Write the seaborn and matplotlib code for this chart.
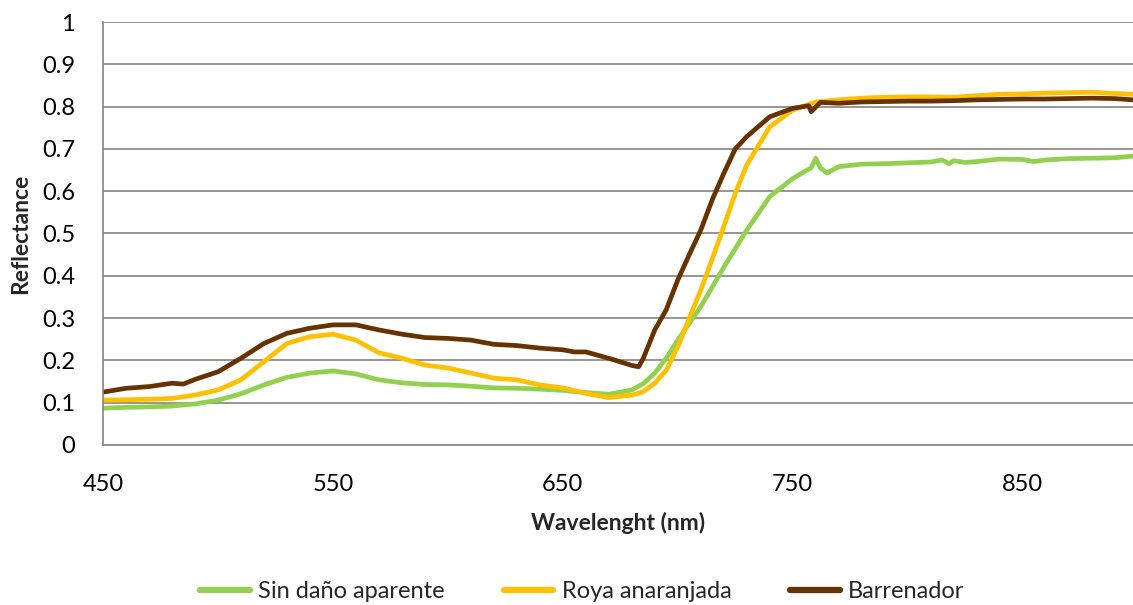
import numpy as np
import pandas as pd
import seaborn as sns
import matplotlib
matplotlib.use("Agg")
import matplotlib.pyplot as plt
from matplotlib.lines import Line2D

# ---- data ----
wl_sin = [450, 460, 470, 480, 490, 500, 510, 520, 530, 540, 550, 560, 570, 580, 590, 600, 610, 620, 630, 640,
          650, 660, 670, 680, 685, 690, 695, 700, 710, 720, 730, 740, 750, 755, 758, 760, 762, 765, 770, 780, 790,
          800, 810, 815, 818, 820, 825, 830, 840, 850, 855, 860, 870, 880, 890, 898]
sin_dano = [0.087, 0.089, 0.090, 0.092, 0.097, 0.106, 0.121, 0.142, 0.160, 0.170, 0.175, 0.168, 0.154, 0.147,
            0.143, 0.142, 0.139, 0.135, 0.134, 0.132, 0.129, 0.124, 0.120, 0.130, 0.145, 0.170, 0.205, 0.248,
            0.327, 0.420, 0.508, 0.587, 0.630, 0.646, 0.655, 0.678, 0.655, 0.643, 0.658, 0.664, 0.665,
            0.667, 0.669, 0.674, 0.665, 0.672, 0.668, 0.670, 0.676, 0.675, 0.670, 0.674, 0.677, 0.678, 0.679, 0.683]

wl_roya = [450, 460, 470, 480, 490, 500, 510, 520, 530, 540, 550, 560, 570, 580, 590, 600, 610, 620, 630, 640,
           650, 660, 670, 680, 685, 690, 695, 700, 705, 710, 715, 720, 725, 730, 740, 750, 760, 770, 780, 790,
           800, 810, 820, 830, 840, 850, 860, 870, 880, 890, 898]
roya = [0.106, 0.107, 0.108, 0.110, 0.118, 0.130, 0.154, 0.197, 0.240, 0.256, 0.262, 0.248, 0.218, 0.205,
        0.189, 0.182, 0.170, 0.158, 0.154, 0.142, 0.135, 0.122, 0.112, 0.118, 0.126, 0.146, 0.177, 0.232,
        0.300, 0.366, 0.440, 0.516, 0.595, 0.662, 0.752, 0.792, 0.811, 0.816, 0.820, 0.822,
        0.823, 0.823, 0.822, 0.826, 0.829, 0.830, 0.832, 0.833, 0.834, 0.831, 0.829]

wl_barr = [450, 460, 470, 480, 485, 490, 500, 510, 520, 530, 540, 550, 560, 570, 580, 590, 600, 610, 620, 630,
           640, 650, 655, 660, 670, 680, 683, 685, 690, 695, 700, 705, 710, 715, 720, 725, 730, 740, 750, 757,
           758, 762, 770, 780, 790, 800, 810, 820, 830, 840, 850, 860, 870, 880, 890, 898]
barrenador = [0.125, 0.134, 0.138, 0.146, 0.144, 0.155, 0.173, 0.205, 0.240, 0.264, 0.276, 0.284, 0.284, 0.272,
              0.262, 0.254, 0.252, 0.248, 0.238, 0.235, 0.229, 0.225, 0.220, 0.220, 0.205, 0.188, 0.185, 0.205,
              0.272, 0.320, 0.390, 0.450, 0.508, 0.580, 0.642, 0.700, 0.729, 0.776, 0.796, 0.802,
              0.788, 0.810, 0.808, 0.811, 0.812, 0.813, 0.813, 0.814, 0.816, 0.817, 0.818, 0.818, 0.819, 0.820, 0.819, 0.816]

series_names = ["Sin daño aparente", "Roya anaranjada", "Barrenador"]
colors = ["#92D050", "#FFC000", "#663300"]
x_ticks = [450, 550, 650, 750, 850]
y_ticks = [0, 0.1, 0.2, 0.3, 0.4, 0.5, 0.6, 0.7, 0.8, 0.9, 1]
y_ticklabels = ["0", "0.1", "0.2", "0.3", "0.4", "0.5", "0.6", "0.7", "0.8", "0.9", "1"]

df = pd.concat([
    pd.DataFrame({"wl": wl_sin, "r": sin_dano, "serie": series_names[0]}),
    pd.DataFrame({"wl": wl_roya, "r": roya, "serie": series_names[1]}),
    pd.DataFrame({"wl": wl_barr, "r": barrenador, "serie": series_names[2]}),
])

sns.set_theme(style="white")
plt.rcParams["font.family"] = ["Lato", "DejaVu Sans"]

fig = plt.figure(figsize=(11.33, 6.05), dpi=100)
ax = fig.add_axes([0.0909, 0.2645, 0.9091, 0.6991])

sns.lineplot(data=df, x="wl", y="r", hue="serie", palette=dict(zip(series_names, colors)),
             hue_order=series_names, linewidth=3.4, ax=ax, legend=False, sort=False)

ax.set_xlim(450, 898)
ax.set_ylim(0, 1)
ax.set_xticks(x_ticks)
ax.set_xticklabels([str(t) for t in x_ticks], fontsize=17)
ax.set_yticks(y_ticks)
ax.set_yticklabels(y_ticklabels, fontsize=17)
ax.yaxis.grid(True, color="#8c8c8c", linewidth=1.3)
ax.xaxis.grid(False)
for s in ["top", "right"]:
    ax.spines[s].set_visible(False)
for s in ["left", "bottom"]:
    ax.spines[s].set_color("#8c8c8c")
    ax.spines[s].set_linewidth(1.3)
ax.tick_params(axis="both", which="both", direction="out", length=7, width=1.3, color="#8c8c8c",
               labelcolor="black")
ax.tick_params(axis="x", pad=14)
ax.tick_params(axis="y", pad=13)
ax.set_xlabel("Wavelenght (nm)", fontsize=16.5, fontweight="bold", labelpad=12)
ax.set_ylabel("Reflectance", fontsize=16.5, fontweight="bold", labelpad=8)

handles = [Line2D([0], [0], color=c, linewidth=4.5) for c in colors]
fig.legend(handles, series_names, loc="center", bbox_to_anchor=(0.514, 0.022), ncol=3, frameon=False,
           fontsize=17, handlelength=2.1, columnspacing=2.5, handletextpad=0.35)

fig.savefig("out.png", dpi=100)
